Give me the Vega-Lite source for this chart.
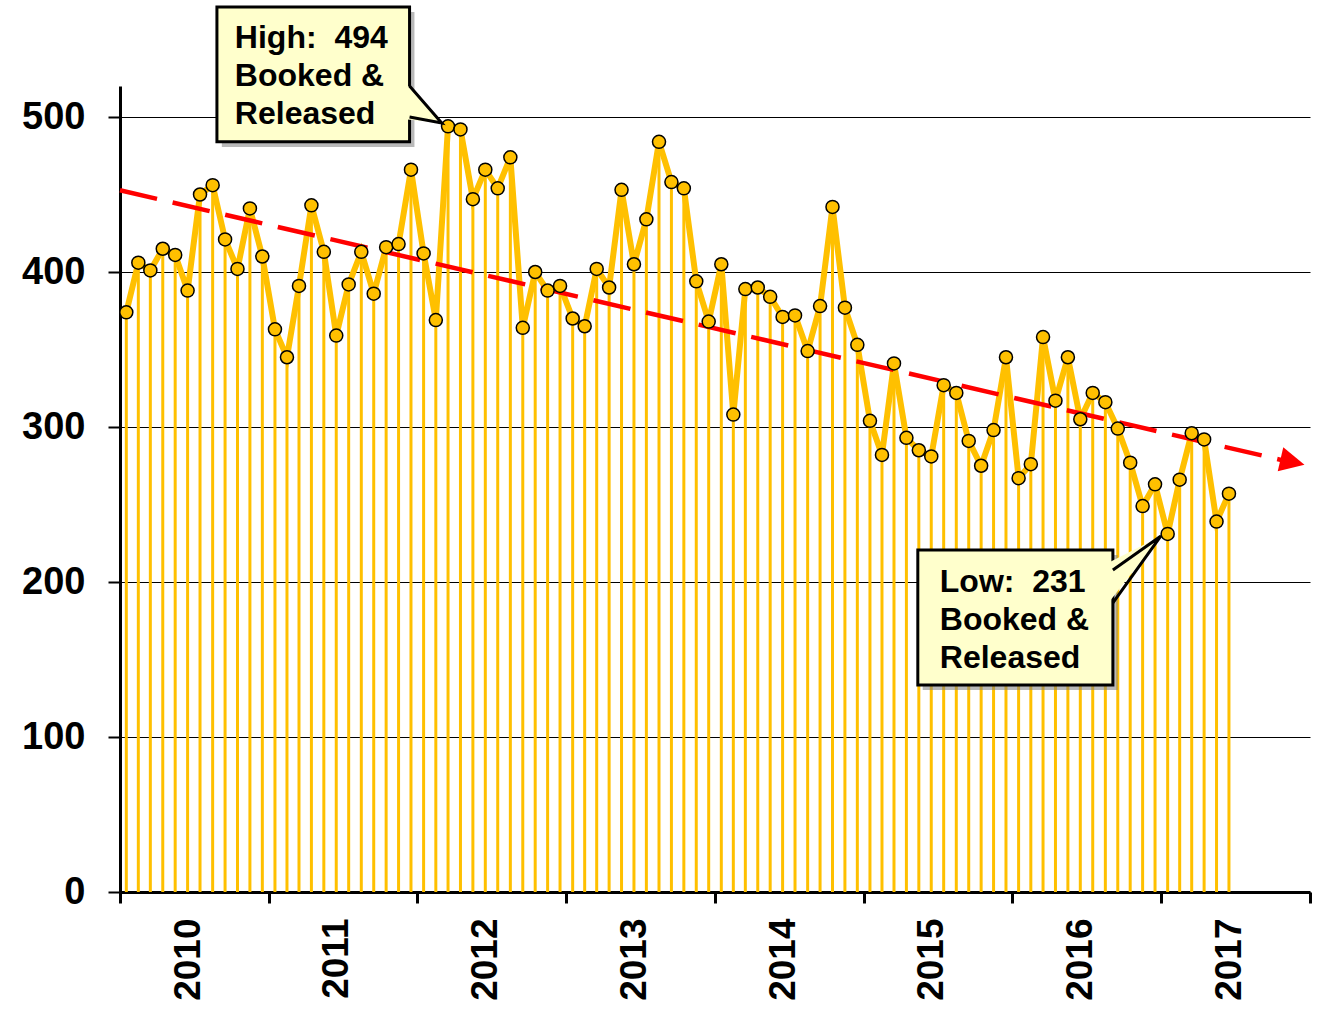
{
  "$schema": "https://vega.github.io/schema/vega-lite/v6.json",
  "autosize": {"type": "none"},
  "width": 1190,
  "height": 806,
  "padding": {"left": 120, "top": 86, "right": 10, "bottom": 118},
  "background": "white",
  "config": {
    "view": {"stroke": null},
    "font": "Liberation Sans",
    "axisX": {
      "domainColor": "black", "domainWidth": 3,
      "tickColor": "black", "tickWidth": 3, "tickSize": 11,
      "labelFont": "Liberation Sans", "labelFontSize": 37, "labelFontWeight": "bold", "labelColor": "black",
      "labelAngle": -90, "labelPadding": 15, "labelOffset": 68, "labelOverlap": false, "grid": false, "title": null
    },
    "axisY": {
      "domainColor": "black", "domainWidth": 3,
      "tickColor": "black", "tickWidth": 2, "tickSize": 12,
      "labelFont": "Liberation Sans", "labelFontSize": 38, "labelFontWeight": "bold", "labelColor": "black",
      "labelPadding": 23, "grid": true, "gridColor": "black", "gridWidth": 1.2, "title": null
    }
  },
  "datasets": {
    "monthly": [
      {"month": "2010-01", "value": 374}, {"month": "2010-02", "value": 406}, {"month": "2010-03", "value": 401}, {"month": "2010-04", "value": 415},
      {"month": "2010-05", "value": 411}, {"month": "2010-06", "value": 388}, {"month": "2010-07", "value": 450}, {"month": "2010-08", "value": 456},
      {"month": "2010-09", "value": 421}, {"month": "2010-10", "value": 402}, {"month": "2010-11", "value": 441}, {"month": "2010-12", "value": 410},
      {"month": "2011-01", "value": 363}, {"month": "2011-02", "value": 345}, {"month": "2011-03", "value": 391}, {"month": "2011-04", "value": 443},
      {"month": "2011-05", "value": 413}, {"month": "2011-06", "value": 359}, {"month": "2011-07", "value": 392}, {"month": "2011-08", "value": 413},
      {"month": "2011-09", "value": 386}, {"month": "2011-10", "value": 416}, {"month": "2011-11", "value": 418}, {"month": "2011-12", "value": 466},
      {"month": "2012-01", "value": 412}, {"month": "2012-02", "value": 369}, {"month": "2012-03", "value": 494}, {"month": "2012-04", "value": 492},
      {"month": "2012-05", "value": 447}, {"month": "2012-06", "value": 466}, {"month": "2012-07", "value": 454}, {"month": "2012-08", "value": 474},
      {"month": "2012-09", "value": 364}, {"month": "2012-10", "value": 400}, {"month": "2012-11", "value": 388}, {"month": "2012-12", "value": 391},
      {"month": "2013-01", "value": 370}, {"month": "2013-02", "value": 365}, {"month": "2013-03", "value": 402}, {"month": "2013-04", "value": 390},
      {"month": "2013-05", "value": 453}, {"month": "2013-06", "value": 405}, {"month": "2013-07", "value": 434}, {"month": "2013-08", "value": 484},
      {"month": "2013-09", "value": 458}, {"month": "2013-10", "value": 454}, {"month": "2013-11", "value": 394}, {"month": "2013-12", "value": 368},
      {"month": "2014-01", "value": 405}, {"month": "2014-02", "value": 308}, {"month": "2014-03", "value": 389}, {"month": "2014-04", "value": 390},
      {"month": "2014-05", "value": 384}, {"month": "2014-06", "value": 371}, {"month": "2014-07", "value": 372}, {"month": "2014-08", "value": 349},
      {"month": "2014-09", "value": 378}, {"month": "2014-10", "value": 442}, {"month": "2014-11", "value": 377}, {"month": "2014-12", "value": 353},
      {"month": "2015-01", "value": 304}, {"month": "2015-02", "value": 282}, {"month": "2015-03", "value": 341}, {"month": "2015-04", "value": 293},
      {"month": "2015-05", "value": 285}, {"month": "2015-06", "value": 281}, {"month": "2015-07", "value": 327}, {"month": "2015-08", "value": 322},
      {"month": "2015-09", "value": 291}, {"month": "2015-10", "value": 275}, {"month": "2015-11", "value": 298}, {"month": "2015-12", "value": 345},
      {"month": "2016-01", "value": 267}, {"month": "2016-02", "value": 276}, {"month": "2016-03", "value": 358}, {"month": "2016-04", "value": 317},
      {"month": "2016-05", "value": 345}, {"month": "2016-06", "value": 305}, {"month": "2016-07", "value": 322}, {"month": "2016-08", "value": 316},
      {"month": "2016-09", "value": 299}, {"month": "2016-10", "value": 277}, {"month": "2016-11", "value": 249}, {"month": "2016-12", "value": 263},
      {"month": "2017-01", "value": 231}, {"month": "2017-02", "value": 266}, {"month": "2017-03", "value": 296}, {"month": "2017-04", "value": 292},
      {"month": "2017-05", "value": 239}, {"month": "2017-06", "value": 257}
    ],
    "trend": [
      {"date": "2010-01-01", "trend": 452.7},
      {"date": "2017-10-26", "trend": 278.5}
    ],
    "arrow": [
      {"date": "2017-11-19", "trend": 277.4}
    ],
    "boxes": [
      {"id": "high", "x1": "2010-08-27", "x2": "2011-12-13", "y1": 571, "y2": 484, "sx1": "2010-09-08", "sx2": "2011-12-25", "sy1": 567.7, "sy2": 480.6},
      {"id": "low", "x1": "2015-05-14", "x2": "2016-09-04", "y1": 220.6, "y2": 133.5, "sx1": "2015-05-26", "sx2": "2016-09-16", "sy1": 217.4, "sy2": 130.3}
    ],
    "tailFill": [
      {"id": "high", "date": "2011-11-26", "top": 523.9, "bottom": 498.7},
      {"id": "high", "date": "2012-03-01", "top": 496.1, "bottom": 496.1},
      {"id": "low", "date": "2016-08-18", "top": 211.6, "bottom": 184.5},
      {"id": "low", "date": "2016-12-31", "top": 229.7, "bottom": 229.7}
    ],
    "tailLine": [
      {"id": "high", "i": 1, "date": "2011-12-13", "v": 520},
      {"id": "high", "i": 2, "date": "2012-03-01", "v": 496.1},
      {"id": "high", "i": 3, "date": "2011-12-13", "v": 500},
      {"id": "low", "i": 1, "date": "2016-09-04", "v": 207.7},
      {"id": "low", "i": 2, "date": "2016-12-31", "v": 229.7},
      {"id": "low", "i": 3, "date": "2016-09-04", "v": 186.5}
    ],
    "labels": [
      {"date": "2010-10-10", "v": 544.5, "label": "High:\u00a0 494\nBooked &\nReleased"},
      {"date": "2015-07-07", "v": 193.5, "label": "Low:\u00a0 231\nBooked &\nReleased"}
    ]
  },
  "layer": [
    {
      "data": {"name": "monthly"},
      "mark": {"type": "rule", "color": "#FFC000", "strokeWidth": 3},
      "encoding": {
        "x": {
          "field": "month", "timeUnit": "utcyearmonth", "type": "temporal", "bandPosition": 0.5, "title": null,
          "scale": {"type": "utc", "domain": [{"year": 2010, "month": 1, "date": 1, "utc": true}, {"year": 2018, "month": 1, "date": 1, "utc": true}]},
          "axis": {
            "values": [
              {"year": 2010, "month": 1, "date": 1, "utc": true}, {"year": 2011, "month": 1, "date": 1, "utc": true},
              {"year": 2012, "month": 1, "date": 1, "utc": true}, {"year": 2013, "month": 1, "date": 1, "utc": true},
              {"year": 2014, "month": 1, "date": 1, "utc": true}, {"year": 2015, "month": 1, "date": 1, "utc": true},
              {"year": 2016, "month": 1, "date": 1, "utc": true}, {"year": 2017, "month": 1, "date": 1, "utc": true},
              {"year": 2018, "month": 1, "date": 1, "utc": true}
            ],
            "labelExpr": "utcyear(datum.value) >= 2018 ? '' : '' + utcyear(datum.value)"
          }
        },
        "y": {
          "field": "value", "type": "quantitative", "title": null,
          "scale": {"domain": [0, 520], "nice": false, "zero": true},
          "axis": {"values": [0, 100, 200, 300, 400, 500]}
        },
        "y2": {"datum": 0}
      }
    },
    {
      "data": {"name": "monthly"},
      "mark": {"type": "line", "color": "#FFC000", "strokeWidth": 6},
      "encoding": {
        "x": {"field": "month", "timeUnit": "utcyearmonth", "type": "temporal", "bandPosition": 0.5, "title": null},
        "y": {"field": "value", "type": "quantitative", "title": null}
      }
    },
    {
      "data": {"name": "trend"},
      "mark": {"type": "line", "color": "#FF0000", "strokeWidth": 4.5, "strokeDash": [38, 16]},
      "encoding": {
        "x": {"field": "date", "type": "temporal", "title": null},
        "y": {"field": "trend", "type": "quantitative", "title": null}
      }
    },
    {
      "data": {"name": "arrow"},
      "mark": {"type": "point", "shape": "M1,0L-1,-1L-1,1Z", "filled": true, "color": "#FF0000", "size": 605, "angle": 13, "opacity": 1},
      "encoding": {
        "x": {"field": "date", "type": "temporal", "title": null},
        "y": {"field": "trend", "type": "quantitative", "title": null}
      }
    },
    {
      "data": {"name": "monthly"},
      "mark": {"type": "point", "filled": true, "fill": "#FFC000", "stroke": "black", "strokeWidth": 1.5, "size": 170, "opacity": 1},
      "encoding": {
        "x": {"field": "month", "timeUnit": "utcyearmonth", "type": "temporal", "bandPosition": 0.5, "title": null},
        "y": {"field": "value", "type": "quantitative", "title": null}
      }
    },
    {
      "data": {"name": "boxes"},
      "mark": {"type": "rect", "color": "#808080", "opacity": 0.55},
      "encoding": {
        "x": {"field": "sx1", "type": "temporal", "title": null},
        "x2": {"field": "sx2"},
        "y": {"field": "sy1", "type": "quantitative", "title": null},
        "y2": {"field": "sy2"}
      }
    },
    {
      "data": {"name": "boxes"},
      "mark": {"type": "rect", "fill": "#FFFFCC", "stroke": "black", "strokeWidth": 3},
      "encoding": {
        "x": {"field": "x1", "type": "temporal", "title": null},
        "x2": {"field": "x2"},
        "y": {"field": "y1", "type": "quantitative", "title": null},
        "y2": {"field": "y2"}
      }
    },
    {
      "data": {"name": "tailFill"},
      "mark": {"type": "area", "color": "#FFFFCC", "opacity": 1},
      "encoding": {
        "x": {"field": "date", "type": "temporal", "title": null},
        "y": {"field": "top", "type": "quantitative", "title": null},
        "y2": {"field": "bottom"},
        "detail": {"field": "id"}
      }
    },
    {
      "data": {"name": "tailLine"},
      "mark": {"type": "line", "color": "black", "strokeWidth": 3},
      "encoding": {
        "x": {"field": "date", "type": "temporal", "title": null},
        "y": {"field": "v", "type": "quantitative", "title": null},
        "order": {"field": "i"},
        "detail": {"field": "id"}
      }
    },
    {
      "data": {"name": "labels"},
      "mark": {"type": "text", "align": "left", "baseline": "alphabetic", "fontSize": 32, "fontWeight": "bold", "font": "Liberation Sans", "color": "black", "lineBreak": "\n", "lineHeight": 38},
      "encoding": {
        "x": {"field": "date", "type": "temporal", "title": null},
        "y": {"field": "v", "type": "quantitative", "title": null},
        "text": {"field": "label"}
      }
    }
  ]
}
